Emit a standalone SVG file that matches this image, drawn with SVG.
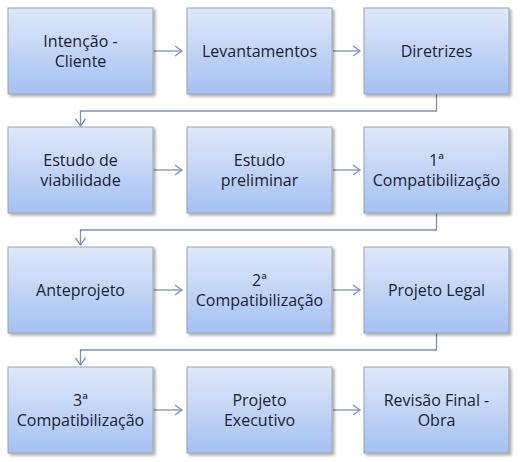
<svg xmlns="http://www.w3.org/2000/svg" width="520" height="462" viewBox="0 0 520 462">
<defs>
<linearGradient id="g" x1="0" y1="0" x2="0" y2="1">
<stop offset="0" stop-color="#dfe8f9"/>
<stop offset="1" stop-color="#a5c1f3"/>
</linearGradient>
<filter id="sh" x="-10%" y="-10%" width="130%" height="130%">
<feGaussianBlur in="SourceAlpha" stdDeviation="1.5"/>
<feOffset dx="1.5" dy="2" result="b"/>
<feComponentTransfer><feFuncA type="linear" slope="0.35"/></feComponentTransfer>
<feMerge><feMergeNode/><feMergeNode in="SourceGraphic"/></feMerge>
</filter>
<marker id="a" markerWidth="12" markerHeight="12" refX="9" refY="6" orient="auto" markerUnits="userSpaceOnUse">
<path d="M2,1 L9,6 L2,11" fill="none" stroke="#7d90b0" stroke-width="1.3"/>
</marker>
</defs>
<style>
.box{fill:url(#g);stroke:#9aa3b0;stroke-width:1;filter:url(#sh)}
.t{font-family:"Open Sans","Liberation Sans",sans-serif;font-size:16px;fill:#1a2233;text-anchor:middle}
.c{fill:none;stroke:#7d90b0;stroke-width:1.3;marker-end:url(#a)}
</style>
<rect width="520" height="462" fill="#ffffff"/>
<g id="connectors">
<line class="c" x1="154" y1="51" x2="182" y2="51"/>
<line class="c" x1="333" y1="51" x2="360" y2="51"/>
<polyline class="c" points="436.5,94 436.5,111 80.5,111 80.5,126"/>
<line class="c" x1="154" y1="170" x2="182" y2="170"/>
<line class="c" x1="333" y1="170" x2="360" y2="170"/>
<polyline class="c" points="436.5,213 436.5,230 80.5,230 80.5,245"/>
<line class="c" x1="154" y1="290" x2="182" y2="290"/>
<line class="c" x1="333" y1="290" x2="360" y2="290"/>
<polyline class="c" points="436.5,333 436.5,350 80.5,350 80.5,365"/>
<line class="c" x1="154" y1="410" x2="182" y2="410"/>
<line class="c" x1="333" y1="410" x2="360" y2="410"/>
</g>
<g id="n1"><rect class="box" x="8" y="8" width="145" height="86"/><text class="t" x="80.5" y="47">Intenção -</text><text class="t" x="80.5" y="67">Cliente</text></g>
<g id="n2"><rect class="box" x="187" y="8" width="145" height="86"/><text class="t" x="259.5" y="57">Levantamentos</text></g>
<g id="n3"><rect class="box" x="364" y="8" width="145" height="86"/><text class="t" x="436.5" y="57">Diretrizes</text></g>
<g id="n4"><rect class="box" x="8" y="127" width="145" height="86"/><text class="t" x="80.5" y="166">Estudo de</text><text class="t" x="80.5" y="186">viabilidade</text></g>
<g id="n5"><rect class="box" x="187" y="127" width="145" height="86"/><text class="t" x="259.5" y="166">Estudo</text><text class="t" x="259.5" y="186">preliminar</text></g>
<g id="n6"><rect class="box" x="364" y="127" width="145" height="86"/><text class="t" x="436.5" y="166">1ª</text><text class="t" x="436.5" y="186">Compatibilização</text></g>
<g id="n7"><rect class="box" x="8" y="247" width="145" height="86"/><text class="t" x="80.5" y="296">Anteprojeto</text></g>
<g id="n8"><rect class="box" x="187" y="247" width="145" height="86"/><text class="t" x="259.5" y="286">2ª</text><text class="t" x="259.5" y="306">Compatibilização</text></g>
<g id="n9"><rect class="box" x="364" y="247" width="145" height="86"/><text class="t" x="436.5" y="296">Projeto Legal</text></g>
<g id="n10"><rect class="box" x="8" y="367" width="145" height="86"/><text class="t" x="80.5" y="406">3ª</text><text class="t" x="80.5" y="426">Compatibilização</text></g>
<g id="n11"><rect class="box" x="187" y="367" width="145" height="86"/><text class="t" x="259.5" y="406">Projeto</text><text class="t" x="259.5" y="426">Executivo</text></g>
<g id="n12"><rect class="box" x="364" y="367" width="145" height="86"/><text class="t" x="436.5" y="406">Revisão Final -</text><text class="t" x="436.5" y="426">Obra</text></g>
</svg>
